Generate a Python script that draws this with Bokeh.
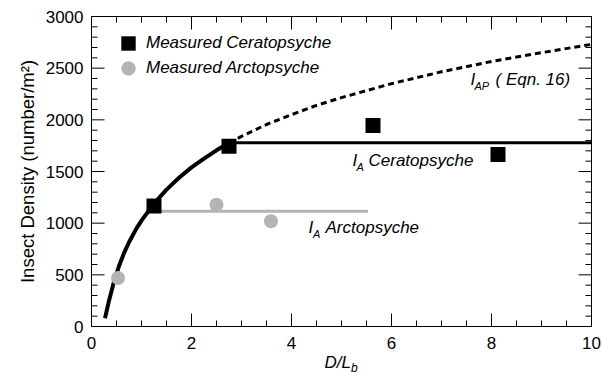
import math
from bokeh.plotting import figure
from bokeh.layouts import column
from bokeh.models import (Legend, LegendItem, Label, Range1d, SingleIntervalTicker,
                          LinearAxis, CustomJSTickFormatter, Div)
from bokeh.embed import file_html
from bokeh.resources import INLINE

# ---- data ----
cera_x = [1.25, 2.75, 5.63, 8.13]
cera_y = [1165, 1745, 1946, 1665]

arct_x = [0.53, 2.5, 3.59]
arct_y = [470, 1178, 1019]

# I_AP curve (Eqn. 16), solid part and dotted continuation
iap_solid_x = [0.27, 0.35, 0.45, 0.55, 0.65, 0.75, 0.9, 1.0, 1.25, 1.5, 1.75, 2.0, 2.25, 2.5, 2.75]
iap_solid_y = [80, 250, 435, 585, 710, 815, 950, 1025, 1190, 1325, 1440, 1540, 1625, 1705, 1775]
iap_dot_x = [2.75, 3.0, 3.5, 4.0, 4.5, 5.0, 6.0, 7.0, 8.0, 9.0, 10.0]
iap_dot_y = [1775, 1840, 1955, 2050, 2140, 2215, 2350, 2465, 2565, 2650, 2730]

# I_A plateau levels
ia_cera_x = [2.75, 10.0]
ia_cera_y = [1778, 1778]
ia_arct_x = [1.25, 5.53]
ia_arct_y = [1116, 1116]

# tick values
x_major = [0, 2, 4, 6, 8, 10]
x_minor = [0.5, 1, 1.5, 2.5, 3, 3.5, 4.5, 5, 5.5, 6.5, 7, 7.5, 8.5, 9, 9.5]
y_major = [0, 500, 1000, 1500, 2000, 2500, 3000]
y_minor = [100, 200, 300, 400, 600, 700, 800, 900, 1100, 1200, 1300, 1400,
           1600, 1700, 1800, 1900, 2100, 2200, 2300, 2400, 2600, 2700, 2800, 2900]

X0, X1, Y0, Y1 = 0, 10, 0, 3000

FONT = "Liberation Sans"
GRAY = "#b4b4b4"

p = figure(width=602, height=358, x_range=Range1d(X0, X1), y_range=Range1d(Y0, Y1),
           output_backend="svg", toolbar_location=None,
           min_border_left=91, min_border_right=11, min_border_top=16, min_border_bottom=32)
p.xgrid.visible = False
p.ygrid.visible = False
p.outline_line_color = "black"
p.outline_line_width = 1
p.background_fill_color = None
p.border_fill_color = "white"

xt = SingleIntervalTicker(interval=2, num_minor_ticks=4)
yt = SingleIntervalTicker(interval=500, num_minor_ticks=5)

def style(ax, labels=True):
    ax.major_tick_in = 0
    ax.major_tick_out = 0
    ax.minor_tick_in = 0
    ax.minor_tick_out = 0
    ax.axis_line_color = "black"
    ax.major_label_text_font = FONT
    ax.major_label_text_font_size = "17px"
    ax.major_label_text_color = "black"
    if not labels:
        ax.formatter = CustomJSTickFormatter(code="return ''")
        ax.major_label_standoff = 0

p.xaxis[0].ticker = xt
p.yaxis[0].ticker = yt
style(p.xaxis[0])
style(p.yaxis[0])
p.xaxis[0].major_label_standoff = 10
p.yaxis[0].major_label_standoff = 8
p.yaxis[0].axis_label = "Insect Density (number/m²)"
p.yaxis[0].axis_label_text_font = FONT
p.yaxis[0].axis_label_text_font_size = "18.5px"
p.yaxis[0].axis_label_text_font_style = "normal"
p.yaxis[0].axis_label_text_color = "black"
p.yaxis[0].axis_label_standoff = 5

top = LinearAxis(ticker=xt)
style(top, labels=False)
p.add_layout(top, "above")
right = LinearAxis(ticker=yt)
style(right, labels=False)
p.add_layout(right, "right")

# inward tick marks on all four sides (half of each dash is clipped by the frame)
MAJ, MIN = 26, 12
for yv in (Y0, Y1):
    p.scatter(x_major, [yv] * len(x_major), marker="dash", angle=math.pi / 2,
              size=MAJ, line_color="black", line_width=1)
    p.scatter(x_minor, [yv] * len(x_minor), marker="dash", angle=math.pi / 2,
              size=MIN, line_color="black", line_width=1)
for xv in (X0, X1):
    p.scatter([xv] * len(y_major), y_major, marker="dash", size=MAJ,
              line_color="black", line_width=1)
    p.scatter([xv] * len(y_minor), y_minor, marker="dash", size=MIN,
              line_color="black", line_width=1)

# lines
p.line(ia_arct_x, ia_arct_y, line_color=GRAY, line_width=3)
p.line(ia_cera_x, ia_cera_y, line_color="black", line_width=3)
p.line(iap_dot_x, iap_dot_y, line_color="black", line_width=3, line_dash="6 4")
p.line(iap_solid_x, iap_solid_y, line_color="black", line_width=4)

# points
ci = p.scatter(arct_x, arct_y, marker="circle", size=14, fill_color=GRAY, line_color=None)
sq = p.scatter(cera_x, cera_y, marker="square", size=15, fill_color="black", line_color=None)

def make_legend(label, rend, loc):
    return Legend(items=[LegendItem(label=label, renderers=[rend])],
                  location=loc, glyph_width=36, glyph_height=36, spacing=0,
                  label_standoff=0, padding=0, margin=0, border_line_color=None,
                  background_fill_alpha=0, label_text_font=FONT,
                  label_text_font_style="italic", label_text_font_size="17px",
                  label_text_color="black")

p.add_layout(make_legend("Measured Ceratopsyche", sq, (19, 265)))
p.add_layout(make_legend("Measured Arctopsyche", ci, (19, 240)))

def lab(x, y, text, size="17px", style_="italic"):
    p.add_layout(Label(x=x, y=y, text=text, text_font=FONT, text_font_size=size,
                       text_font_style=style_, text_color="black",
                       text_baseline="alphabetic", text_align="left"))

# I_A Arctopsyche
lab(4.34, 958, "I")
lab(4.43, 900, "A", size="11px")
lab(4.68, 958, "Arctopsyche")
# I_A Ceratopsyche
lab(5.22, 1606, "I")
lab(5.30, 1548, "A", size="11px")
lab(5.54, 1606, "Ceratopsyche")
# I_AP ( Eqn. 16)
lab(7.58, 2390, "I")
lab(7.66, 2332, "AP", size="11px")
lab(8.08, 2390, "( Eqn. 16)")

# x axis title D/L_b (HTML text so the subscript is real text)
xlabel = Div(text="<span style='font-style:italic;position:relative;top:-2px'>D/L"
                  "<sub style='font-size:12px;line-height:0'>b</sub></span>",
             width=500, height=14, margin=(0, 0, 0, 91),
             styles={"font-family": FONT, "font-size": "17px", "color": "black",
                     "text-align": "center", "line-height": "14px",
                     "overflow": "visible", "background": "white"})

layout = column(p, xlabel, spacing=0)
open("out.html", "w").write(file_html(layout, INLINE))
